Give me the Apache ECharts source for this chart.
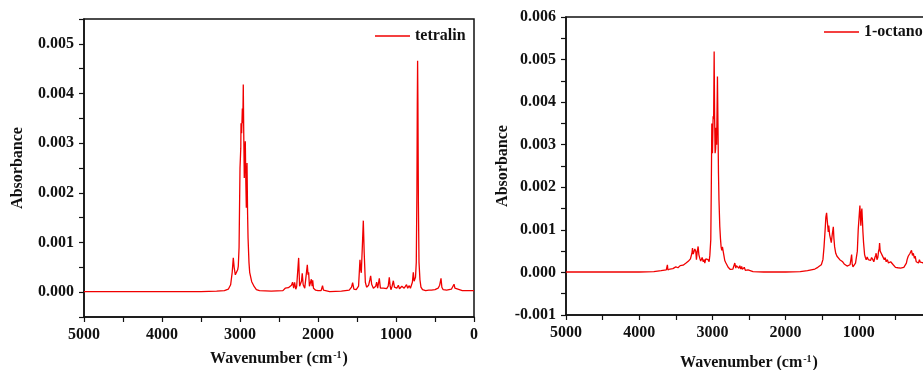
<!DOCTYPE html>
<html>
<head>
<meta charset="utf-8">
<script src="https://cdn.jsdelivr.net/npm/echarts@6/dist/echarts.min.js"></script>
<style>
  html, body { margin: 0; padding: 0; background: #fff; }
  #chart { width: 923px; height: 370px; }
</style>
</head>
<body>
<div id="chart"></div>
<script>
// tetralin spectrum (wavenumber, absorbance)
const tetralinWn = [
  5000, 4000, 3500, 3300, 3200, 3150, 3120, 3100, 3086, 3075, 3060, 3043, 3030, 3022, 3012,
  3000, 2990, 2987, 2979, 2970, 2964, 2958, 2952, 2945, 2938, 2932, 2925, 2919, 2914, 2910,
  2903, 2897, 2885, 2876, 2850, 2830, 2817, 2790, 2750, 2600, 2450, 2420, 2400, 2380, 2360,
  2340, 2326, 2312, 2300, 2285, 2274, 2260, 2248, 2236, 2223, 2212, 2202, 2190, 2181, 2170,
  2155, 2137, 2128, 2120, 2110, 2103, 2085, 2075, 2068, 2058, 2047, 2030, 2017, 2000, 1975,
  1960, 1942, 1930, 1912, 1850, 1700, 1600, 1570, 1556, 1540, 1510, 1480, 1462, 1452, 1445,
  1432, 1419, 1408, 1393, 1377, 1360, 1351, 1335, 1325, 1312, 1300, 1290, 1274, 1260, 1248,
  1235, 1214, 1200, 1185, 1162, 1140, 1120, 1100, 1086, 1075, 1065, 1050, 1034, 1020, 1008,
  990, 970, 955, 940, 925, 909, 895, 880, 865, 850, 830, 815, 804, 790, 778,
  768, 761, 750, 740, 732, 727, 723, 719, 713, 705, 693, 680, 660, 620, 580,
  564, 545, 500, 460, 440, 423, 412, 395, 350, 290, 270, 256, 245, 225, 150, 0
];
const tetralinAbs = [
  0.00001, 0.00001, 0.00001, 0.00002, 0.00003, 0.00006, 0.00015, 0.0004, 0.00069, 0.0005, 0.00035, 0.00031, 0.00045, 0.00052, 0.0009,
  0.0025, 0.0029, 0.0034, 0.0032, 0.0037, 0.0034, 0.00418, 0.0032, 0.0023, 0.0028, 0.00304, 0.0022, 0.0017, 0.0023, 0.0026,
  0.0016, 0.0011, 0.0006, 0.0004, 0.00021, 0.00018, 0.00011, 0.00005, 0.00003, 0.00002, 0.00003, 0.00008, 0.00004, 0.00009, 0.00005,
  0.00014, 0.0002, 0.00008, 0.0002, 0.00006, 0.00011, 0.00008, 0.00069, 0.00012, 0.0001, 0.00022, 0.00038, 0.00015, 0.00012, 0.00008,
  0.00005, 0.00055, 0.00035, 0.0004, 0.00012, 0.00008, 0.00026, 0.00012, 0.00024, 0.00008, 0.00006, 0.00004, 0.00006, 0.00003, 0.00005,
  0.00003, 0.00013, 0.00004, 0.00002, 0.00001, 0.00002, 0.00004, 0.0001, 0.00019, 0.00006, 0.00005, 0.00012, 0.00065, 0.00045, 0.00039,
  0.0009, 0.00144, 0.0008, 0.0002, 0.0001, 0.00012, 0.00014, 0.00025, 0.00033, 0.00016, 0.00014, 0.00008, 0.00005, 0.00012, 0.0002,
  0.00008, 0.00028, 0.00008, 0.00005, 0.00008, 0.00004, 0.00007, 0.00012, 0.0003, 0.00012, 0.00005, 0.00012, 0.00023, 0.0001, 0.00006,
  0.00008, 0.00014, 0.00007, 0.00008, 0.00012, 0.00016, 0.00008, 0.00012, 0.00015, 0.00008, 0.00013, 0.00008, 0.00012, 0.0002, 0.0004,
  0.00022, 0.00025, 0.0003, 0.0006, 0.002, 0.0038, 0.00466, 0.0038, 0.0018, 0.0006, 0.00025, 0.0001, 0.00005, 0.00003, 0.00004,
  0.00006, 0.00004, 0.00005, 0.00008, 0.00014, 0.00028, 0.0001, 0.00005, 0.00004, 0.00006, 0.0001, 0.00016, 0.00008, 0.00004, 0.00003, 0.00003
];

// 1-octanol spectrum
const octanolWn = [
  5000, 4500, 4000, 3800, 3700, 3630, 3615, 3608, 3580, 3540, 3500, 3470, 3440, 3420, 3400,
  3380, 3360, 3345, 3330, 3315, 3300, 3290, 3280, 3272, 3262, 3250, 3240, 3227, 3218, 3208,
  3195, 3185, 3172, 3160, 3150, 3140, 3125, 3110, 3104, 3090, 3075, 3060, 3045, 3035, 3022,
  3015, 3008, 2999, 2990, 2983, 2976, 2970, 2963, 2956, 2950, 2942, 2931, 2924, 2917, 2910,
  2899, 2890, 2881, 2872, 2863, 2854, 2843, 2831, 2815, 2799, 2785, 2770, 2755, 2740, 2720,
  2705, 2694, 2680, 2672, 2663, 2650, 2638, 2626, 2612, 2600, 2590, 2581, 2565, 2550, 2530,
  2513, 2490, 2445, 2300, 2000, 1800, 1700, 1650, 1600, 1560, 1512, 1490, 1475, 1460, 1450,
  1440, 1430, 1417, 1410, 1399, 1388, 1376, 1362, 1348, 1340, 1330, 1315, 1298, 1280, 1260,
  1240, 1220, 1200, 1180, 1160, 1135, 1120, 1108, 1098, 1090, 1080, 1060, 1045, 1035, 1020,
  1008, 996, 985, 978, 972, 965, 958, 950, 944, 935, 921, 910, 899, 885, 870,
  854, 840, 825, 808, 795, 780, 770, 763, 752, 740, 730, 722, 716, 708, 694,
  680, 665, 652, 640, 626, 610, 595, 580, 565, 544, 530, 515, 499, 480, 465,
  453, 430, 410, 385, 365, 350, 340, 325, 312, 300, 290, 280, 267, 255, 240,
  230, 215, 200, 185, 172, 160, 145, 130, 100, 50, 0
];
const octanolAbs = [
  0.00001, 0.00001, 0.00001, 0.00002, 0.00004, 0.00006, 0.00018, 0.00006, 0.00008, 0.00009, 0.00013, 0.00011, 0.00016, 0.00015, 0.00017,
  0.00014, 0.00022, 0.0002, 0.00026, 0.00022, 0.00032, 0.00028, 0.00045, 0.00057, 0.00043, 0.0004, 0.00055, 0.0005, 0.0003, 0.00048,
  0.00061, 0.00042, 0.00033, 0.00027, 0.0003, 0.00035, 0.00025, 0.0003, 0.00022, 0.00032, 0.00028, 0.0003, 0.00025, 0.0004, 0.00077,
  0.002, 0.0035, 0.0028, 0.00367, 0.0036, 0.00519, 0.0037, 0.0028, 0.0029, 0.0034, 0.003, 0.0046, 0.0035, 0.00233, 0.0017,
  0.00108, 0.0008, 0.0006, 0.00052, 0.0006, 0.00058, 0.0004, 0.00028, 0.00022, 0.00018, 0.00012, 0.00012, 0.00007, 0.0001, 0.00008,
  0.00012, 0.00022, 0.0001, 0.00016, 0.00013, 0.00019, 0.0001, 0.00016, 0.00008, 0.00014, 0.00007, 0.0001, 0.00012, 0.00005, 0.00008,
  0.00006, 0.00004, 0.00002, 0.00001, 0.00001, 0.00002, 0.00004, 0.00006, 0.00008, 0.00012, 0.00018, 0.0003, 0.0006, 0.001, 0.0013,
  0.0014, 0.0012, 0.00095, 0.0011, 0.00089, 0.0008, 0.0007, 0.0009, 0.00107, 0.0008, 0.0006, 0.00045, 0.00038, 0.00035, 0.0003,
  0.00028, 0.00025, 0.0002, 0.00018, 0.00015, 0.00013, 0.00018, 0.0003, 0.00042, 0.0002, 0.00013, 0.00016, 0.00022, 0.00025, 0.0005,
  0.001, 0.0013, 0.00157, 0.0013, 0.0011, 0.0014, 0.0015, 0.0012, 0.00096, 0.0007, 0.00042, 0.00035, 0.0003, 0.00036, 0.0003,
  0.00033, 0.00028, 0.00035, 0.0003, 0.00025, 0.00035, 0.0004, 0.00045, 0.0003, 0.00035, 0.0005, 0.00055, 0.00069, 0.0005, 0.00045,
  0.0004, 0.00042, 0.0003, 0.00035, 0.00025, 0.0003, 0.00022, 0.0002, 0.00025, 0.00028, 0.00018, 0.00015, 0.00012, 0.00016, 0.00011,
  0.00012, 0.0001, 0.00014, 0.00012, 0.00015, 0.00022, 0.0003, 0.00038, 0.0004, 0.00045, 0.00045, 0.00052, 0.0004, 0.00045, 0.00033,
  0.00038, 0.00025, 0.00028, 0.00022, 0.0003, 0.00024, 0.00028, 0.00023, 0.0002, 0.00022, 0.0002
];

const seriesNames = ["tetralin", "1-octanol"];

const FONT = "'Liberation Serif', 'Times New Roman', serif";
const red = "#f00000";

const pairs = (xs, ys) => xs.map((x, i) => [x, ys[i]]);

const chart = echarts.init(document.getElementById("chart"), null, { renderer: "canvas" });

function yLabel(v) {
  const k = v * 1000;
  return Math.abs(k - Math.round(k)) < 1e-6 ? v.toFixed(3) : "";
}

function xAxisFor(gridIndex, gap) {
  return {
    gridIndex,
    type: "value",
    inverse: true,
    min: 0,
    max: 5000,
    interval: 500,
    name: "Wavenumber (cm{sup|-1})",
    nameLocation: "middle",
    nameGap: gap,
    nameTextStyle: {
      fontFamily: FONT, fontWeight: "bold", fontSize: 16, color: "#111",
      rich: { sup: { fontFamily: FONT, fontWeight: "bold", fontSize: 10, color: "#111", verticalAlign: "top", padding: [0, 1, 8, 1] } }
    },
    axisLine: { onZero: false, lineStyle: { color: "#111", width: 1.5 } },
    axisTick: { length: 5, lineStyle: { color: "#111", width: 1.2 } },
    axisLabel: {
      margin: 10, fontFamily: FONT, fontWeight: "bold", fontSize: 16, color: "#111",
      formatter: (v) => (v % 1000 === 0 ? String(v) : "")
    },
    splitLine: { show: false }
  };
}

function yAxisFor(gridIndex, min, max, gap) {
  return {
    gridIndex,
    type: "value",
    min, max,
    interval: 0.0005,
    name: "Absorbance",
    nameLocation: "middle",
    nameGap: gap,
    nameTextStyle: { fontFamily: FONT, fontWeight: "bold", fontSize: 16, color: "#111" },
    axisLine: { show: true, onZero: false, lineStyle: { color: "#111", width: 1.5 } },
    axisTick: { length: 5, lineStyle: { color: "#111", width: 1.2 } },
    axisLabel: { margin: 10, fontFamily: FONT, fontWeight: "bold", fontSize: 16, color: "#111", formatter: yLabel },
    splitLine: { show: false }
  };
}

const legendBase = {
  padding: 0,
  icon: "rect",
  itemWidth: 35,
  itemHeight: 1.5,
  itemGap: 5,
  textStyle: { fontFamily: FONT, fontWeight: "bold", fontSize: 16, color: "#111" }
};

chart.setOption({
  animation: false,
  backgroundColor: "#fff",
  grid: [
    { left: 84, right: 449, top: 19, bottom: 53, show: true, borderColor: "#111", borderWidth: 1.5, outerBoundsMode: "none" },
    { left: 566, right: -9, top: 17, bottom: 55, show: true, borderColor: "#111", borderWidth: 1.5, outerBoundsMode: "none" }
  ],
  legend: [
    Object.assign({ data: [seriesNames[0]], left: 375, top: 28 }, legendBase),
    Object.assign({ data: [seriesNames[1]], left: 824, top: 24 }, legendBase)
  ],
  xAxis: [xAxisFor(0, 33), xAxisFor(1, 39)],
  yAxis: [yAxisFor(0, -0.0005, 0.0055, 58), yAxisFor(1, -0.001, 0.006, 52)],
  series: [
    {
      name: seriesNames[0], type: "line", xAxisIndex: 0, yAxisIndex: 0,
      data: pairs(tetralinWn, tetralinAbs), symbol: "none",
      lineStyle: { color: red, width: 1.3 }, itemStyle: { color: red }
    },
    {
      name: seriesNames[1], type: "line", xAxisIndex: 1, yAxisIndex: 1,
      data: pairs(octanolWn, octanolAbs), symbol: "none",
      lineStyle: { color: red, width: 1.3 }, itemStyle: { color: red }
    }
  ]
});
</script>
</body>
</html>
